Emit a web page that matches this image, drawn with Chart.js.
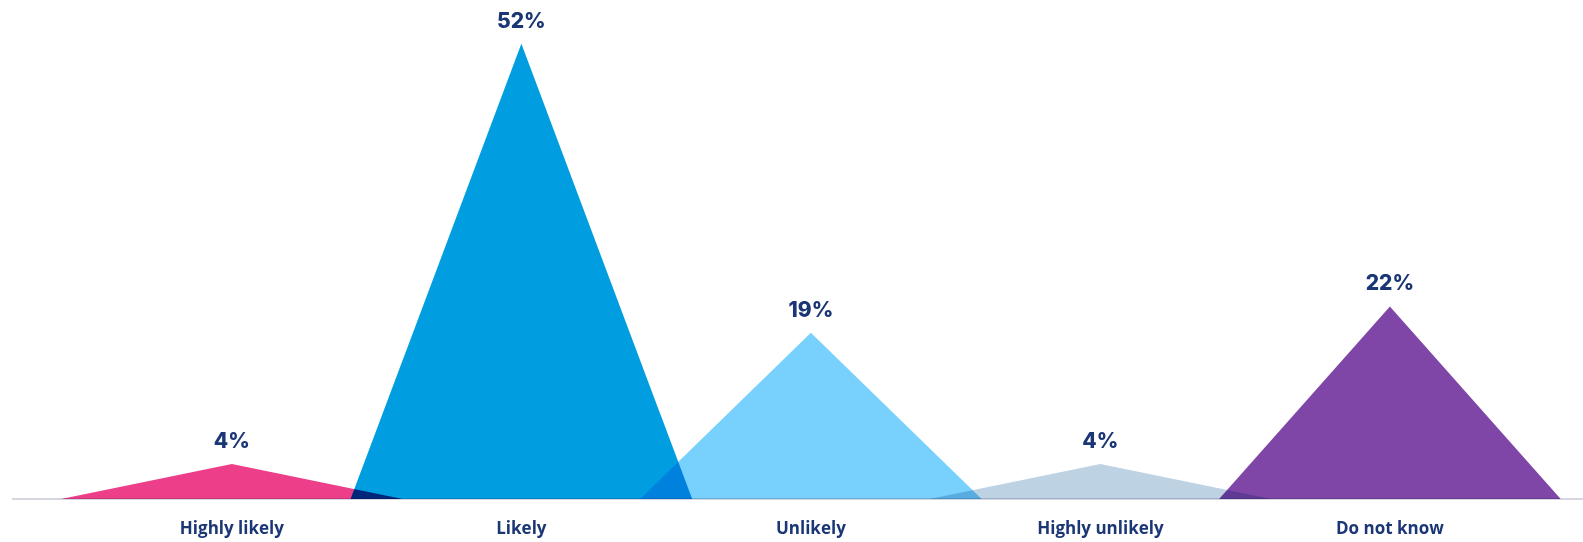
<!DOCTYPE html>
<html>
<head>
<meta charset="utf-8">
<script src="https://cdn.jsdelivr.net/npm/chart.js@4.4.1/dist/chart.umd.min.js"></script>
<style>
  html, body { margin: 0; padding: 0; background: #ffffff; }
  #wrap { width: 1583px; height: 542px; position: relative; }
</style>
</head>
<body>
<div id="wrap"><canvas id="peakChart"></canvas></div>
<script>
// 데이터
const categories = ['Highly likely', 'Likely', 'Unlikely', 'Highly unlikely', 'Do not know'];
const percents = [4, 52, 19, 4, 22];
const valueLabels = ['4%', '52%', '19%', '4%', '22%'];
const colors = ['#ED3E8A', '#009EE0', '#77D1FC', '#BDD2E2', '#7F46A8'];

const HALF = 0.59;      // 삼각형 밑변 절반 (카테고리 단위)
const TEXT = '#1B3675';

// 카테고리마다 삼각형 하나
const datasets = categories.map((name, i) => ({
  label: name,
  data: [
    { x: i - HALF, y: 0 },
    { x: i, y: percents[i] },
    { x: i + HALF, y: 0 }
  ],
  backgroundColor: colors[i],
  borderWidth: 0,
  pointRadius: 0,
  tension: 0,
  fill: 'origin'
}));

// 겹치는 부분은 곱하기 합성
const multiplyPlugin = {
  id: 'multiply',
  beforeDatasetsDraw(chart) {
    chart.ctx.globalCompositeOperation = 'multiply';
  },
  afterDatasetsDraw(chart) {
    chart.ctx.globalCompositeOperation = 'source-over';
  }
};

// 꼭짓점 위 퍼센트
const peakLabels = {
  id: 'peakLabels',
  afterDatasetsDraw(chart) {
    const ctx = chart.ctx;
    const xs = chart.scales.x, ys = chart.scales.y;
    ctx.save();
    ctx.fillStyle = TEXT;
    ctx.font = '800 21px Inter';
    ctx.textAlign = 'center';
    ctx.textBaseline = 'alphabetic';
    percents.forEach((v, i) => {
      ctx.fillText(valueLabels[i], xs.getPixelForValue(i), ys.getPixelForValue(v) - 16);
    });
    ctx.restore();
  }
};

new Chart(document.getElementById('peakChart'), {
  type: 'line',
  data: { datasets: datasets },
  options: {
    responsive: true,
    maintainAspectRatio: false,
    animation: false,
    layout: { padding: { left: 13, right: 0, top: 0, bottom: 0 } },
    plugins: {
      legend: { display: false },
      tooltip: { enabled: false }
    },
    scales: {
      x: {
        type: 'linear',
        min: -0.756,
        max: 4.667,
        afterBuildTicks(scale) {
          scale.ticks = categories.map((c, i) => ({ value: i }));
        },
        afterFit(scale) { scale.height = 43; },
        grid: { display: false },
        border: { display: true, color: '#D6D6E0', width: 2 },
        ticks: {
          autoSkip: false,
          maxRotation: 0,
          padding: 12,
          color: TEXT,
          font: { family: 'Open Sans', weight: 'bold', size: 17 },
          callback: (v) => categories[v]
        }
      },
      y: {
        display: false,
        min: 0,
        max: 57
      }
    }
  },
  plugins: [multiplyPlugin, peakLabels]
});
</script>
</body>
</html>
